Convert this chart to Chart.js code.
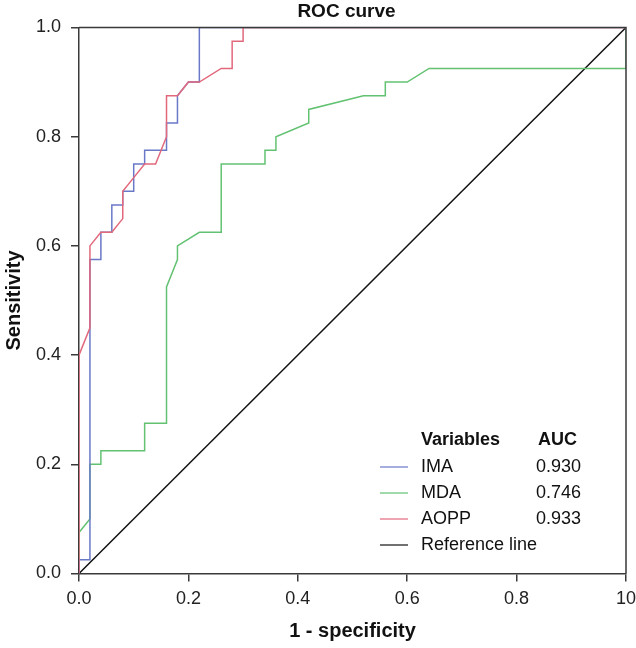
<!DOCTYPE html>
<html lang="en">
  <head>
    <meta charset="UTF-8" />
    <title>ROC curve</title>
    <style>
      body {
        margin: 0;
        background: #fff;
      }
      .chart {
        width: 636px;
        height: 648px;
      }
    </style>
  </head>
  <body>
    <div class="chart">
      <canvas id="rocChart" width="636" height="648"></canvas>
    </div>
    <script src="https://cdn.jsdelivr.net/npm/chart.js"></script>
    <script>
      // corners of each ROC step (x = 1 - specificity, y = sensitivity)
      const imaX = [0, 0, 0.02, 0.02, 0.04, 0.04, 0.06, 0.06, 0.08, 0.08, 0.1, 0.1, 0.12, 0.12, 0.16, 0.16, 0.18, 0.18, 0.2, 0.22, 0.22, 1];
      const imaY = [0, 0.025, 0.025, 0.575, 0.575, 0.625, 0.625, 0.675, 0.675, 0.7, 0.7, 0.75, 0.75, 0.775, 0.775, 0.825, 0.825, 0.875, 0.9, 0.9, 1, 1];

      const mdaX = [0, 0, 0.02, 0.02, 0.04, 0.04, 0.12, 0.12, 0.16, 0.16, 0.18, 0.18, 0.22, 0.26, 0.26, 0.34, 0.34, 0.36, 0.36, 0.42, 0.42, 0.52, 0.56, 0.56, 0.6, 0.64, 1, 1];
      const mdaY = [0, 0.075, 0.1, 0.2, 0.2, 0.225, 0.225, 0.275, 0.275, 0.525, 0.575, 0.6, 0.625, 0.625, 0.75, 0.75, 0.775, 0.775, 0.8, 0.825, 0.85, 0.875, 0.875, 0.9, 0.9, 0.925, 0.925, 1];

      const aoppX = [0, 0, 0.02, 0.02, 0.04, 0.06, 0.08, 0.08, 0.1, 0.12, 0.14, 0.16, 0.16, 0.18, 0.2, 0.22, 0.26, 0.28, 0.28, 0.3, 0.3, 1];
      const aoppY = [0, 0.4, 0.45, 0.6, 0.625, 0.625, 0.65, 0.7, 0.725, 0.75, 0.75, 0.8, 0.875, 0.875, 0.9, 0.9, 0.925, 0.925, 0.975, 0.975, 1, 1];

      const refX = [0, 1];
      const refY = [0, 1];

      const variables = ["IMA", "MDA", "AOPP", "Reference line"];
      const aucValues = ["0.930", "0.746", "0.933", ""];
      const colors = ["#6a78c8", "#63c272", "#e2687c", "#111111"];

      const xTickLabels = ["0.0", "0.2", "0.4", "0.6", "0.8", "10"];

      const FONT = "'Liberation Sans', Arial, sans-serif";

      function toPoints(xs, ys) {
        return xs.map((x, i) => ({ x: x, y: ys[i] }));
      }

      function line(label, xs, ys, color, order) {
        return {
          label: label,
          data: toPoints(xs, ys),
          showLine: true,
          borderColor: color,
          backgroundColor: color,
          borderWidth: 1.5,
          pointRadius: 0,
          tension: 0,
          order: order,
        };
      }

      // title, top/right frame and the little AUC table
      const rocExtras = {
        id: "rocExtras",
        afterDraw(chart) {
          const ctx = chart.ctx;
          const a = chart.chartArea;
          ctx.save();

          ctx.strokeStyle = "#3a3a3a";
          ctx.lineWidth = 1.5;
          ctx.beginPath();
          ctx.moveTo(a.left, a.top);
          ctx.lineTo(a.right, a.top);
          ctx.lineTo(a.right, a.bottom);
          ctx.stroke();

          ctx.fillStyle = "#111";
          ctx.textBaseline = "middle";
          ctx.textAlign = "center";
          ctx.font = "bold 19px " + FONT;
          ctx.fillText("ROC curve", (a.left + a.right) / 2 - 6, 12);

          ctx.textAlign = "left";
          ctx.font = "bold 18px " + FONT;
          ctx.fillText("Variables", 421, 440);
          ctx.fillText("AUC", 538, 440);

          ctx.font = "18px " + FONT;
          variables.forEach((name, i) => {
            const y = 467 + i * 26;
            ctx.strokeStyle = colors[i];
            ctx.lineWidth = 1.2;
            ctx.beginPath();
            ctx.moveTo(380, y);
            ctx.lineTo(408, y);
            ctx.stroke();
            ctx.fillStyle = "#111";
            ctx.fillText(name, 421, y);
            if (aucValues[i]) ctx.fillText(aucValues[i], 536, y);
          });
          ctx.restore();
        },
      };

      const ctx = document.getElementById("rocChart");
      new Chart(ctx, {
        type: "scatter",
        data: {
          datasets: [
            line(variables[0], imaX, imaY, colors[0], 2),
            line(variables[1], mdaX, mdaY, colors[1], 3),
            line(variables[2], aoppX, aoppY, colors[2], 1),
            line(variables[3], refX, refY, colors[3], 4),
          ],
        },
        options: {
          responsive: false,
          animation: false,
          layout: {
            padding: { top: 27.5, right: 10, left: 0, bottom: 0 },
          },
          plugins: {
            legend: { display: false },
            tooltip: { enabled: false },
          },
          scales: {
            x: {
              type: "linear",
              min: 0,
              max: 1,
              afterFit(scale) {
                scale.height = 74.5;
                scale.paddingRight = 0;
                scale.paddingLeft = 0;
              },
              border: { color: "#3a3a3a", width: 1.5 },
              grid: {
                drawOnChartArea: false,
                tickLength: 8,
                color: "#3a3a3a",
                lineWidth: 1.5,
              },
              ticks: {
                stepSize: 0.2,
                padding: 7,
                color: "#222",
                font: { family: FONT, size: 18 },
                maxRotation: 0,
                callback: (v, i) => xTickLabels[i],
              },
              title: {
                display: true,
                text: "1 - specificity",
                color: "#111",
                font: { family: FONT, size: 20, weight: "bold" },
                padding: { top: 0, bottom: 5 },
              },
            },
            y: {
              type: "linear",
              min: 0,
              max: 1,
              afterFit(scale) {
                scale.width = 79;
              },
              border: { color: "#3a3a3a", width: 1.5 },
              grid: {
                drawOnChartArea: false,
                tickLength: 8,
                color: "#3a3a3a",
                lineWidth: 1.5,
              },
              ticks: {
                stepSize: 0.2,
                padding: 10,
                color: "#222",
                font: { family: FONT, size: 18 },
                callback: (v) => v.toFixed(1),
              },
              title: {
                display: true,
                text: "Sensitivity",
                color: "#111",
                font: { family: FONT, size: 20, weight: "bold" },
                padding: { top: 2, bottom: 0 },
              },
            },
          },
        },
        plugins: [rocExtras],
      });
    </script>
  </body>
</html>
